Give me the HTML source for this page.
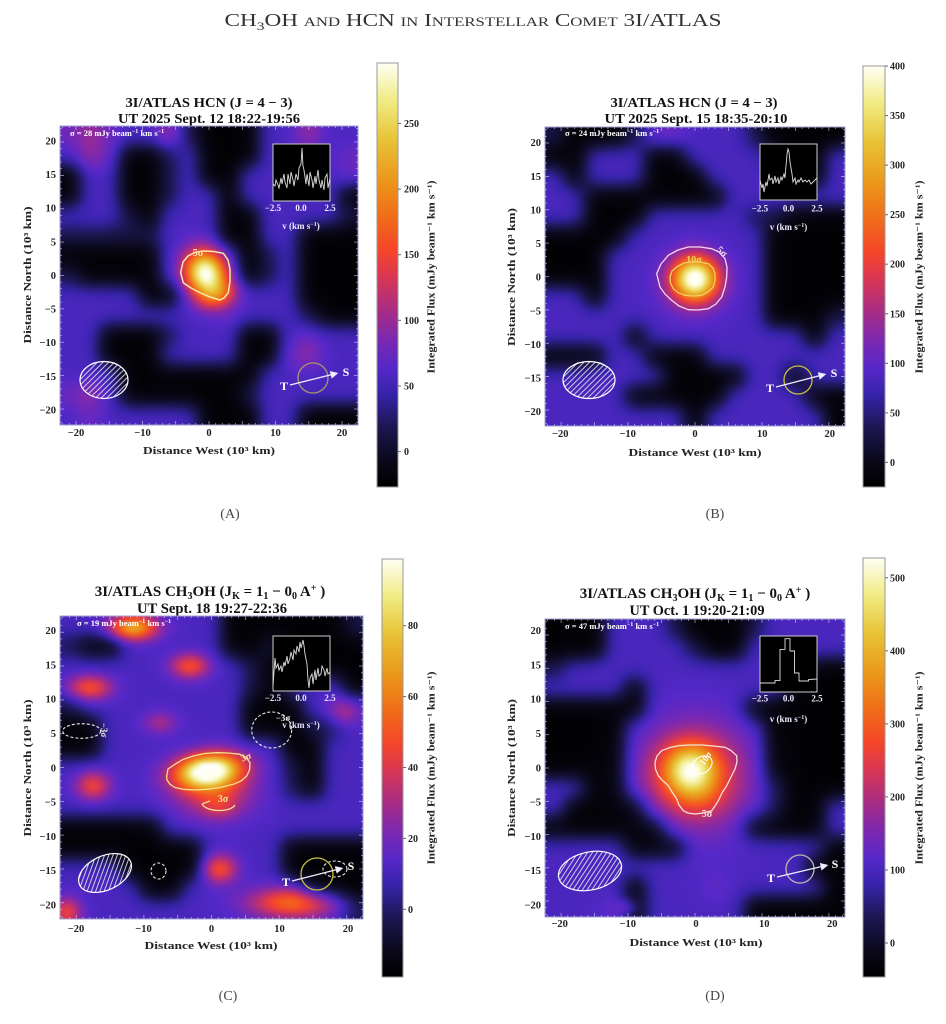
<!DOCTYPE html>
<html><head><meta charset="utf-8">
<style>
html,body{margin:0;padding:0;background:#fff;}
#wrap{position:relative;width:946px;height:1024px;overflow:hidden;background:#fff;}
canvas{position:absolute;background:#1e1850;}
svg{position:absolute;left:0;top:0;}
.b{font-family:"Liberation Serif","DejaVu Serif",serif;font-weight:bold;}
.n{font-family:"Liberation Serif","DejaVu Serif",serif;}
</style></head><body>
<div id="wrap">
<canvas id="cA" width="298" height="299" style="left:60px;top:126px"></canvas>
<canvas id="cB" width="300" height="299" style="left:545px;top:127px"></canvas>
<canvas id="cC" width="303" height="303" style="left:60px;top:616px"></canvas>
<canvas id="cD" width="300" height="298" style="left:545px;top:619px"></canvas>
<svg width="946" height="1024" viewBox="0 0 946 1024" xmlns="http://www.w3.org/2000/svg">
<defs>
<linearGradient id="cmg" x1="0" y1="1" x2="0" y2="0">
<stop offset="0" stop-color="rgb(0,0,0)"/>
<stop offset="0.06" stop-color="rgb(10,8,25)"/>
<stop offset="0.14" stop-color="rgb(28,22,80)"/>
<stop offset="0.22" stop-color="rgb(55,35,170)"/>
<stop offset="0.28" stop-color="rgb(85,40,200)"/>
<stop offset="0.35" stop-color="rgb(125,40,175)"/>
<stop offset="0.42" stop-color="rgb(170,45,130)"/>
<stop offset="0.5" stop-color="rgb(220,55,80)"/>
<stop offset="0.56" stop-color="rgb(245,70,40)"/>
<stop offset="0.64" stop-color="rgb(240,110,25)"/>
<stop offset="0.72" stop-color="rgb(235,150,25)"/>
<stop offset="0.82" stop-color="rgb(232,195,55)"/>
<stop offset="0.91" stop-color="rgb(240,235,130)"/>
<stop offset="1" stop-color="rgb(255,255,245)"/>
</linearGradient>
<pattern id="hatch" width="4" height="4" patternUnits="userSpaceOnUse" patternTransform="rotate(45)">
<line x1="1" y1="0" x2="1" y2="4" stroke="#f4f4f4" stroke-width="0.8"/>
</pattern>
<marker id="ah" markerWidth="6" markerHeight="6" refX="5" refY="3" orient="auto"><path d="M0,0 L6,3 L0,6 z" fill="#eeeeff"/></marker>
</defs>

<!-- Main title -->
<text class="n" x="473" y="26" text-anchor="middle" font-size="18" fill="#333" style="font-variant:small-caps" textLength="497" lengthAdjust="spacingAndGlyphs">CH<tspan font-size="12" dy="4">3</tspan><tspan dy="-4">OH and HCN in Interstellar Comet 3I/ATLAS</tspan></text>

<g id="ticks" stroke="rgba(230,230,255,0.75)" stroke-width="0.7"></g>

<!-- ================= PANEL A ================= -->
<text class="b" x="209" y="107" text-anchor="middle" font-size="14" fill="#111" textLength="167" lengthAdjust="spacingAndGlyphs">3I/ATLAS HCN (J = 4 − 3)</text>
<text class="b" x="209" y="123" text-anchor="middle" font-size="14" fill="#111" textLength="182" lengthAdjust="spacingAndGlyphs">UT 2025 Sept. 12 18:22-19:56</text>
<rect x="60" y="126" width="298" height="299" fill="none" stroke="#a0a0d0" stroke-width="1"/>
<text class="b" x="70" y="136" font-size="8.5" fill="#fff">σ = 28 mJy beam<tspan dy="-3" font-size="6">−1</tspan><tspan dy="3"> km s</tspan><tspan dy="-3" font-size="6">−1</tspan></text>
<rect x="273" y="144" width="57" height="57" fill="#000" stroke="#ccc" stroke-width="1"/>
<polyline transform="translate(273,144)" fill="none" stroke="#ddd" stroke-width="0.9" points="0,40 2,42 3,36 5,41 6,44 8,34 9,40 11,30 12,38 14,44 15,30 17,40 18,28 20,36 21,42 23,30 25,36 26,24 28,20 29,4 30,22 31,26 33,40 34,30 36,42 37,28 39,36 40,44 42,32 43,40 45,26 46,36 48,44 49,36 51,46 52,34 54,30 55,44 57,34"/>
<g class="b" font-size="9" fill="#f0eaff" text-anchor="middle">
<text x="273" y="211">−2.5</text><text x="301" y="211">0.0</text><text x="330" y="211">2.5</text>
<text x="301" y="229">v (km s<tspan dy="-3" font-size="6">−1</tspan><tspan dy="3">)</tspan></text>
</g>
<polygon points="180.7,272.7 183,262 188,256 196,252 203.3,251 214,251.5 223.3,253.3 228,260 230,269.3 230,281 228.3,292.7 224,298 220,300 210,297 200,292.7 191,288 183.3,282.7" fill="none" stroke="#f8e8a8" stroke-width="1.5" stroke-linejoin="round"/>
<text class="b" x="198" y="256" text-anchor="middle" font-size="10" fill="#f8e8a8">5σ</text>
<ellipse cx="104" cy="380" rx="24" ry="18.5" fill="url(#hatch)" stroke="#fff" stroke-width="1.2"/>
<circle cx="313" cy="378" r="15" fill="none" stroke="#a89868" stroke-width="1.3"/>
<line x1="290" y1="385" x2="337" y2="373.3" stroke="#eeeeff" stroke-width="1.3" marker-end="url(#ah)"/>
<text class="b" x="284" y="390" font-size="12" fill="#fff" text-anchor="middle">T</text>
<text class="b" x="346" y="376" font-size="12" fill="#fff" text-anchor="middle">S</text>
<g class="b" font-size="10.5" fill="#222" text-anchor="middle">
<text x="76" y="436">−20</text><text x="142.5" y="436">−10</text><text x="209" y="436">0</text><text x="275.5" y="436">10</text><text x="342" y="436">20</text>
</g>
<text class="b" x="209" y="454" text-anchor="middle" font-size="11" fill="#222" textLength="132" lengthAdjust="spacingAndGlyphs">Distance West (10³ km)</text>
<g class="b" font-size="10.5" fill="#222" text-anchor="end">
<text x="56" y="144.3">20</text><text x="56" y="178">15</text><text x="56" y="211.6">10</text><text x="56" y="245.3">5</text><text x="56" y="278.9">0</text><text x="56" y="312.6">−5</text><text x="56" y="346.2">−10</text><text x="56" y="379.9">−15</text><text x="56" y="413.5">−20</text>
</g>
<text class="b" transform="translate(28,275) rotate(-90)" text-anchor="middle" dominant-baseline="central" font-size="11" fill="#222" textLength="137" lengthAdjust="spacingAndGlyphs">Distance North (10³ km)</text>
<rect x="377" y="63" width="21" height="424" fill="url(#cmg)" stroke="#999" stroke-width="1"/>
<g stroke="#666" stroke-width="1"><line x1="398" y1="451.6" x2="401" y2="451.6"/><line x1="398" y1="386" x2="401" y2="386"/><line x1="398" y1="320.3" x2="401" y2="320.3"/><line x1="398" y1="254.7" x2="401" y2="254.7"/><line x1="398" y1="189.1" x2="401" y2="189.1"/><line x1="398" y1="123.4" x2="401" y2="123.4"/></g>
<g class="b" font-size="10" fill="#222">
<text x="404" y="455">0</text><text x="404" y="389.5">50</text><text x="404" y="323.8">100</text><text x="404" y="258.2">150</text><text x="404" y="192.6">200</text><text x="404" y="126.9">250</text>
</g>
<text class="b" transform="translate(432,277) rotate(-90)" text-anchor="middle" dominant-baseline="central" font-size="10.5" fill="#222" textLength="193" lengthAdjust="spacingAndGlyphs">Integrated Flux (mJy beam⁻¹ km s⁻¹)</text>
<text class="n" x="230" y="518" text-anchor="middle" font-size="14" fill="#444">(A)</text>

<!-- ================= PANEL B ================= -->
<text class="b" x="694" y="107" text-anchor="middle" font-size="14" fill="#111" textLength="167" lengthAdjust="spacingAndGlyphs">3I/ATLAS HCN (J = 4 − 3)</text>
<text class="b" x="696" y="123" text-anchor="middle" font-size="14" fill="#111" textLength="183" lengthAdjust="spacingAndGlyphs">UT 2025 Sept. 15 18:35-20:10</text>
<rect x="545" y="127" width="300" height="299" fill="none" stroke="#a0a0d0" stroke-width="1"/>
<text class="b" x="565" y="136" font-size="8.5" fill="#fff">σ = 24 mJy beam<tspan dy="-3" font-size="6">−1</tspan><tspan dy="3"> km s</tspan><tspan dy="-3" font-size="6">−1</tspan></text>
<rect x="760" y="144" width="57" height="56" fill="#000" stroke="#ccc" stroke-width="1"/>
<polyline transform="translate(760,144)" fill="none" stroke="#ddd" stroke-width="0.9" points="0,36 2,44 3,40 4,48 6,38 7,42 9,30 10,36 12,34 13,40 15,32 16,38 18,34 19,40 21,33 22,36 24,30 25,34 26,22 27,10 28,5 29,8 30,18 31,24 32,30 33,38 35,34 36,40 38,36 39,38 41,34 43,38 45,36 47,38 49,36 51,40 53,38 55,36 57,34"/>
<g class="b" font-size="9" fill="#f0eaff" text-anchor="middle">
<text x="760" y="211.5">−2.5</text><text x="788.5" y="211.5">0.0</text><text x="817" y="211.5">2.5</text>
<text x="788.5" y="230">v (km s<tspan dy="-3" font-size="6">−1</tspan><tspan dy="3">)</tspan></text>
</g>
<polygon points="656.7,273.7 661,264 668.3,255.3 678,250 688.3,247 700,247 711.7,248.7 719,252 725,258.7 727,267 726.7,277 725,287 721.7,297 716,304 708.3,308.7 698,310 688.3,309.7 679,306 671.7,300.3 665,294 660,287" fill="none" stroke="#f0d8f0" stroke-width="1.3" stroke-linejoin="round"/>
<polygon points="670,277 672,271 676.7,267 684,263 691.7,262 700,262 708.3,263.7 713,268 715,273.7 715,280 713.3,287 708,292 701.7,295.3 693,296 685,295.3 678,292.5 673.3,288.7 670.5,283" fill="none" stroke="#f0d060" stroke-width="1.3" stroke-linejoin="round"/>
<text class="b" x="694" y="263" text-anchor="middle" font-size="10" fill="#f0d060">10σ</text>
<text class="b" transform="translate(720,254) rotate(40)" text-anchor="middle" font-size="10" fill="#f0d8f0">5σ</text>
<ellipse cx="589" cy="380" rx="26" ry="18.5" fill="url(#hatch)" stroke="#fff" stroke-width="1.2"/>
<circle cx="798" cy="380" r="14" fill="none" stroke="#c8c040" stroke-width="1.3"/>
<line x1="776" y1="387" x2="825" y2="374.3" stroke="#eeeeff" stroke-width="1.3" marker-end="url(#ah)"/>
<text class="b" x="770" y="392" font-size="12" fill="#fff" text-anchor="middle">T</text>
<text class="b" x="834" y="377" font-size="12" fill="#fff" text-anchor="middle">S</text>
<g class="b" font-size="10.5" fill="#222" text-anchor="middle">
<text x="560.3" y="437">−20</text><text x="627.7" y="437">−10</text><text x="695" y="437">0</text><text x="762.3" y="437">10</text><text x="829.7" y="437">20</text>
</g>
<text class="b" x="695" y="456" text-anchor="middle" font-size="11" fill="#222" textLength="133" lengthAdjust="spacingAndGlyphs">Distance West (10³ km)</text>
<g class="b" font-size="10.5" fill="#222" text-anchor="end">
<text x="541" y="146.2">20</text><text x="541" y="179.8">15</text><text x="541" y="213.4">10</text><text x="541" y="247.1">5</text><text x="541" y="280.7">0</text><text x="541" y="314.3">−5</text><text x="541" y="347.9">−10</text><text x="541" y="381.6">−15</text><text x="541" y="415.2">−20</text>
</g>
<text class="b" transform="translate(512,277) rotate(-90)" text-anchor="middle" dominant-baseline="central" font-size="11" fill="#222" textLength="138" lengthAdjust="spacingAndGlyphs">Distance North (10³ km)</text>
<rect x="863" y="66" width="22" height="421" fill="url(#cmg)" stroke="#999" stroke-width="1"/>
<g stroke="#666" stroke-width="1"><line x1="885" y1="462.4" x2="888" y2="462.4"/><line x1="885" y1="412.9" x2="888" y2="412.9"/><line x1="885" y1="363.3" x2="888" y2="363.3"/><line x1="885" y1="313.8" x2="888" y2="313.8"/><line x1="885" y1="264.2" x2="888" y2="264.2"/><line x1="885" y1="214.7" x2="888" y2="214.7"/><line x1="885" y1="165.1" x2="888" y2="165.1"/><line x1="885" y1="115.6" x2="888" y2="115.6"/><line x1="885" y1="66" x2="888" y2="66"/></g>
<g class="b" font-size="10" fill="#222">
<text x="890" y="465.9">0</text><text x="890" y="416.4">50</text><text x="890" y="366.8">100</text><text x="890" y="317.3">150</text><text x="890" y="267.7">200</text><text x="890" y="218.2">250</text><text x="890" y="168.6">300</text><text x="890" y="119.1">350</text><text x="890" y="69.5">400</text>
</g>
<text class="b" transform="translate(920,277) rotate(-90)" text-anchor="middle" dominant-baseline="central" font-size="10.5" fill="#222" textLength="193" lengthAdjust="spacingAndGlyphs">Integrated Flux (mJy beam⁻¹ km s⁻¹)</text>
<text class="n" x="715" y="518" text-anchor="middle" font-size="14" fill="#444">(B)</text>

<!-- ================= PANEL C ================= -->
<text class="b" x="210" y="596" text-anchor="middle" font-size="15" fill="#111">3I/ATLAS CH<tspan font-size="10" dy="3">3</tspan><tspan dy="-3">OH (J</tspan><tspan font-size="10" dy="3">K</tspan><tspan dy="-3"> = 1</tspan><tspan font-size="10" dy="3">1</tspan><tspan dy="-3"> − 0</tspan><tspan font-size="10" dy="3">0</tspan><tspan dy="-3"> A</tspan><tspan font-size="10" dy="-5">+</tspan><tspan dy="5"> )</tspan></text>
<text class="b" x="212" y="613" text-anchor="middle" font-size="15" fill="#111" textLength="150" lengthAdjust="spacingAndGlyphs">UT Sept. 18 19:27-22:36</text>
<rect x="60" y="616" width="303" height="303" fill="none" stroke="#a0a0d0" stroke-width="1"/>
<text class="b" x="77" y="626" font-size="8.5" fill="#fff">σ = 19 mJy beam<tspan dy="-3" font-size="6">−1</tspan><tspan dy="3"> km s</tspan><tspan dy="-3" font-size="6">−1</tspan></text>
<rect x="273" y="636" width="57" height="55" fill="#000" stroke="#ccc" stroke-width="1"/>
<polyline transform="translate(273,636)" fill="none" stroke="#ddd" stroke-width="0.9" points="0,50 1,36 2,22 3,32 5,28 6,34 8,30 9,36 11,26 12,30 14,20 15,28 17,22 18,16 20,24 21,14 23,18 24,10 26,16 27,6 28,12 30,4 31,10 32,18 34,28 35,44 36,52 37,42 39,38 40,48 42,34 43,44 45,32 46,40 48,38 49,30 51,34 52,40 54,32 55,38 57,36"/>
<g class="b" font-size="9" fill="#e8e4ff" text-anchor="middle">
<text x="273" y="701">−2.5</text><text x="301" y="701">0.0</text><text x="330" y="701">2.5</text>
<text x="301" y="728">v (km s<tspan dy="-3" font-size="6">−1</tspan><tspan dy="3">)</tspan></text>
</g>
<polygon points="166.7,776 168,769 175,764.3 183,759.5 193.3,756 205,753.5 216.7,752.7 228,753 240,754.3 246,757.5 250,762.7 249.5,770 246.7,776 241,781 233.3,784.3 220,787.5 206.7,789.3 195,790 183.3,789.3 175,787.5 170,784.3 167,780" fill="none" stroke="#f5e08c" stroke-width="1.3" stroke-linejoin="round"/>
<text class="b" transform="translate(247,760) rotate(-20)" text-anchor="middle" font-size="10" fill="#f5e08c">3σ</text>
<path d="M202,804 C206,812 230,813 235,805 M202,804 L210,801" fill="none" stroke="#f5e08c" stroke-width="1.3"/>
<text class="b" x="223" y="802" text-anchor="middle" font-size="10" fill="#f5e08c">3σ</text>
<g fill="none" stroke="#e8e8e8" stroke-width="1.1" stroke-dasharray="3,2">
<ellipse cx="81.7" cy="731" rx="19" ry="7.3"/>
<ellipse cx="271.7" cy="730" rx="20" ry="18"/>
<ellipse cx="158.5" cy="871" rx="7.5" ry="8"/>
<ellipse cx="335" cy="869" rx="12" ry="8"/>
</g>
<text class="b" transform="translate(101,730) rotate(90)" text-anchor="middle" font-size="9" fill="#e8e8e8">−3σ</text>
<text class="b" x="283" y="721" text-anchor="middle" font-size="9" fill="#e8e8e8">−3σ</text>
<ellipse cx="105" cy="873" rx="28" ry="17" transform="rotate(-25 105 873)" fill="url(#hatch)" stroke="#fff" stroke-width="1.2"/>
<circle cx="317" cy="874" r="16" fill="none" stroke="#c8c040" stroke-width="1.3"/>
<line x1="292" y1="881" x2="342" y2="868.3" stroke="#eeeeff" stroke-width="1.3" marker-end="url(#ah)"/>
<text class="b" x="286" y="886" font-size="12" fill="#fff" text-anchor="middle">T</text>
<text class="b" x="351" y="870" font-size="12" fill="#fff" text-anchor="middle">S</text>
<g class="b" font-size="10.5" fill="#222" text-anchor="middle">
<text x="76" y="932">−20</text><text x="143.5" y="932">−10</text><text x="211.5" y="932">0</text><text x="279.5" y="932">10</text><text x="348" y="932">20</text>
</g>
<text class="b" x="211" y="949" text-anchor="middle" font-size="11" fill="#222" textLength="133" lengthAdjust="spacingAndGlyphs">Distance West (10³ km)</text>
<g class="b" font-size="10.5" fill="#222" text-anchor="end">
<text x="56" y="634.2">20</text><text x="56" y="668.5">15</text><text x="56" y="702.7">10</text><text x="56" y="737">5</text><text x="56" y="771.3">0</text><text x="56" y="805.6">−5</text><text x="56" y="839.9">−10</text><text x="56" y="874.1">−15</text><text x="56" y="908.5">−20</text>
</g>
<text class="b" transform="translate(28,768) rotate(-90)" text-anchor="middle" dominant-baseline="central" font-size="11" fill="#222" textLength="137" lengthAdjust="spacingAndGlyphs">Distance North (10³ km)</text>
<rect x="382" y="559" width="21" height="418" fill="url(#cmg)" stroke="#999" stroke-width="1"/>
<g stroke="#666" stroke-width="1"><line x1="403" y1="909.3" x2="406" y2="909.3"/><line x1="403" y1="838.4" x2="406" y2="838.4"/><line x1="403" y1="767.5" x2="406" y2="767.5"/><line x1="403" y1="696.6" x2="406" y2="696.6"/><line x1="403" y1="625.7" x2="406" y2="625.7"/></g>
<g class="b" font-size="10" fill="#222">
<text x="408" y="912.8">0</text><text x="408" y="841.9">20</text><text x="408" y="771">40</text><text x="408" y="700.1">60</text><text x="408" y="629.2">80</text>
</g>
<text class="b" transform="translate(432,768) rotate(-90)" text-anchor="middle" dominant-baseline="central" font-size="10.5" fill="#222" textLength="193" lengthAdjust="spacingAndGlyphs">Integrated Flux (mJy beam⁻¹ km s⁻¹)</text>
<text class="n" x="228" y="1000" text-anchor="middle" font-size="14" fill="#444">(C)</text>

<!-- ================= PANEL D ================= -->
<text class="b" x="695" y="598" text-anchor="middle" font-size="15" fill="#111">3I/ATLAS CH<tspan font-size="10" dy="3">3</tspan><tspan dy="-3">OH (J</tspan><tspan font-size="10" dy="3">K</tspan><tspan dy="-3"> = 1</tspan><tspan font-size="10" dy="3">1</tspan><tspan dy="-3"> − 0</tspan><tspan font-size="10" dy="3">0</tspan><tspan dy="-3"> A</tspan><tspan font-size="10" dy="-5">+</tspan><tspan dy="5"> )</tspan></text>
<text class="b" x="697" y="615" text-anchor="middle" font-size="15" fill="#111" textLength="135" lengthAdjust="spacingAndGlyphs">UT Oct. 1 19:20-21:09</text>
<rect x="545" y="619" width="300" height="298" fill="none" stroke="#a0a0d0" stroke-width="1"/>
<text class="b" x="565" y="629" font-size="8.5" fill="#fff">σ = 47 mJy beam<tspan dy="-3" font-size="6">−1</tspan><tspan dy="3"> km s</tspan><tspan dy="-3" font-size="6">−1</tspan></text>
<rect x="760" y="636" width="57" height="56" fill="#000" stroke="#ccc" stroke-width="1"/>
<polyline transform="translate(760,636)" fill="none" stroke="#ddd" stroke-width="0.9" points="0,47 15,47 15,44.6 20,44.6 20,13.4 25,13.4 25,2.7 30,2.7 30,15 34.5,15 34.5,37 39,37 39,45 48.6,45 48.6,43.6 57,43"/>
<g class="b" font-size="9" fill="#f0eaff" text-anchor="middle">
<text x="760" y="701.5">−2.5</text><text x="788.5" y="701.5">0.0</text><text x="817" y="701.5">2.5</text>
<text x="788.5" y="722">v (km s<tspan dy="-3" font-size="6">−1</tspan><tspan dy="3">)</tspan></text>
</g>
<polygon points="655,762.3 657,756 661.7,750.7 670,747.5 678.3,745.7 690,745 701.7,745 713,746 725,747.3 731,750.5 736.7,755.7 737,762 735,769 731,777 726.7,785.7 722,793 718.3,800.7 715,806 711.7,810.7 703,813 695,814 688,813 683.3,810.7 679,805 676.7,799 672,792 668.3,785.7 662,780 658.3,775.7 655.5,769" fill="none" stroke="#f5e0d8" stroke-width="1.3" stroke-linejoin="round"/>
<text class="b" x="707" y="817" text-anchor="middle" font-size="10" fill="#f5e0d8">5σ</text>
<ellipse cx="702" cy="765" rx="11" ry="8" transform="rotate(-35 702 765)" fill="none" stroke="#fff" stroke-width="1.1"/>
<text class="b" transform="translate(708,760) rotate(-55)" text-anchor="middle" font-size="9" fill="#fff">10σ</text>
<ellipse cx="590" cy="871" rx="32" ry="19" transform="rotate(-12 590 871)" fill="url(#hatch)" stroke="#fff" stroke-width="1.2"/>
<circle cx="800" cy="869" r="14" fill="none" stroke="#c0b8b0" stroke-width="1.3"/>
<line x1="777" y1="877" x2="827" y2="865.3" stroke="#eeeeff" stroke-width="1.3" marker-end="url(#ah)"/>
<text class="b" x="771" y="882" font-size="12" fill="#fff" text-anchor="middle">T</text>
<text class="b" x="835" y="868" font-size="12" fill="#fff" text-anchor="middle">S</text>
<g class="b" font-size="10.5" fill="#222" text-anchor="middle">
<text x="559.7" y="927">−20</text><text x="627.8" y="927">−10</text><text x="696" y="927">0</text><text x="764.2" y="927">10</text><text x="832.3" y="927">20</text>
</g>
<text class="b" x="696" y="946" text-anchor="middle" font-size="11" fill="#222" textLength="133" lengthAdjust="spacingAndGlyphs">Distance West (10³ km)</text>
<g class="b" font-size="10.5" fill="#222" text-anchor="end">
<text x="541" y="634.2">20</text><text x="541" y="668.5">15</text><text x="541" y="702.7">10</text><text x="541" y="737">5</text><text x="541" y="771.3">0</text><text x="541" y="805.6">−5</text><text x="541" y="839.9">−10</text><text x="541" y="874.1">−15</text><text x="541" y="908.5">−20</text>
</g>
<text class="b" transform="translate(512,768) rotate(-90)" text-anchor="middle" dominant-baseline="central" font-size="11" fill="#222" textLength="138" lengthAdjust="spacingAndGlyphs">Distance North (10³ km)</text>
<rect x="863" y="558" width="22" height="419" fill="url(#cmg)" stroke="#999" stroke-width="1"/>
<g stroke="#666" stroke-width="1"><line x1="885" y1="943" x2="888" y2="943"/><line x1="885" y1="870" x2="888" y2="870"/><line x1="885" y1="796.9" x2="888" y2="796.9"/><line x1="885" y1="723.9" x2="888" y2="723.9"/><line x1="885" y1="650.8" x2="888" y2="650.8"/><line x1="885" y1="577.8" x2="888" y2="577.8"/></g>
<g class="b" font-size="10" fill="#222">
<text x="890" y="946.5">0</text><text x="890" y="873.5">100</text><text x="890" y="800.4">200</text><text x="890" y="727.4">300</text><text x="890" y="654.3">400</text><text x="890" y="581.3">500</text>
</g>
<text class="b" transform="translate(920,768) rotate(-90)" text-anchor="middle" dominant-baseline="central" font-size="10.5" fill="#222" textLength="193" lengthAdjust="spacingAndGlyphs">Integrated Flux (mJy beam⁻¹ km s⁻¹)</text>
<text class="n" x="715" y="1000" text-anchor="middle" font-size="14" fill="#444">(D)</text>
</svg>
</div>
<script>
(function(){
var S=[[0,0,0,0],[0.06,10,8,25],[0.14,28,22,80],[0.22,55,35,170],[0.28,85,40,200],[0.35,125,40,175],[0.42,170,45,130],[0.5,220,55,80],[0.56,245,70,40],[0.64,240,110,25],[0.72,235,150,25],[0.82,232,195,55],[0.91,240,235,130],[1,255,255,245]];
function cm(t){t=t<0?0:(t>1?1:t);for(var i=1;i<S.length;i++){if(t<=S[i][0]){var a=S[i-1],b=S[i],f=(t-a[0])/(b[0]-a[0]);return[a[1]+f*(b[1]-a[1]),a[2]+f*(b[2]-a[2]),a[3]+f*(b[3]-a[3])];}}return[255,255,245];}
var LV=[0.01,0.13,0.26,0.32,0.41,0.50,0.58,0.68,0.82,0.95];
function draw(id,grid,blobs){
 var cv=document.getElementById(id);if(!cv||!cv.getContext)return;
 var N=60,off=document.createElement('canvas');off.width=N;off.height=N;
 var oc=off.getContext('2d'),im=oc.createImageData(N,N);
 var G=grid.map(function(r){return r.split('').map(function(c){return LV[+c];});});
 var R=G.length,C=G[0].length,sg=0.55,k2=1/(2*sg*sg);
 for(var j=0;j<N;j++)for(var i=0;i<N;i++){
  var x=-22.4+(i+0.5)*44.8/N,y=22.4-(j+0.5)*44.8/N;
  var gx=(i+0.5)/N*C-0.5,gy=(j+0.5)/N*R-0.5;
  var num=0,den=0;
  var ci=Math.round(gx),cj=Math.round(gy);
  for(var b1=cj-2;b1<=cj+2;b1++){var rr=Math.max(0,Math.min(R-1,b1));for(var a1=ci-2;a1<=ci+2;a1++){var cc=Math.max(0,Math.min(C-1,a1));var dx=gx-a1,dy=gy-b1,w=Math.exp(-(dx*dx+dy*dy)*k2);num+=w*G[rr][cc];den+=w;}}
  var v=num/den;
  for(var q=0;q<blobs.length;q++){var b=blobs[q],r=b[5]||0,c=Math.cos(r),s=Math.sin(r),ddx=x-b[0],ddy=y-b[1],u=(ddx*c+ddy*s)/b[2],ww=(-ddx*s+ddy*c)/b[3];v+=b[4]*Math.exp(-0.5*(u*u+ww*ww));}
  var col=cm(v),k=(j*N+i)*4;im.data[k]=col[0];im.data[k+1]=col[1];im.data[k+2]=col[2];im.data[k+3]=255;
 }
 oc.putImageData(im,0,0);
 var ctx=cv.getContext('2d');ctx.imageSmoothingEnabled=true;try{ctx.imageSmoothingQuality='high';}catch(e){}
 ctx.drawImage(off,0,0,cv.width,cv.height);
}
draw('cA',["343224100022422","243001200022223","022001200222223","022001220222220","222102220022221","111112220022000","000002222012000","100002222012000","222200222222000","222222223222100","220001222002322","220002222003422","222000000022222","342000000122222","232222200022000"],
 [[-0.5,0.3,2.2,2.5,0.75,0.4],[1.5,-3,2.2,1.4,0.22,0.3]]);
draw('cB',["100013322210000","002220022221002","202220002222002","220000000222222","220002222211000","000022222220000","000222222220000","000222222220000","220222222220000","222222222220001","222202222222202","000220002222222","222222000022022","222200000222200","222222202222220"],
 [[0,-0.3,2.5,2.4,0.75,0],[-0.5,-2.5,3.5,3,0.05,0]]);
draw('cC',["222222220000001","100222220010000","222222222100000","222222222102220","122222222000233","002222222000112","002222222220022","222222222221022","222222222221022","222222222222222","000002222222222","000000022220000","222000022220000","222200222222000","222222222222221"],
 [[-0.5,-0.4,3.4,1.7,0.72,0.12],[0.3,-3.2,4.0,2.8,0.27,0],[1.2,-5.9,1.8,1.2,0.1,0],[-11.6,20.7,2.5,1.3,0.5,0],[-3.2,15,2.0,1.3,0.3,0],[-18,11.8,2.3,1.3,0.3,0],[-7.6,6.6,1.8,1.2,0.14,0],[-17.5,-2.7,1.8,1.5,0.27,0],[1.2,-15,1.8,1.5,0.3,0],[12.1,-20,4.5,1.6,0.37,0],[-21.4,-21.4,1.5,1.5,0.27,0],[19.5,8.1,1.5,1.5,0.12,0]]);
draw('cD',["000222100012222","000222210022222","122222222222200","222202222222000","000002222200000","000022222220000","000022222220000","000022222220000","220022222221000","200002222221002","000000222200002","222200022222220","222222222222200","222202223222220","222302222200000"],
 [[-0.7,-0.3,2.8,2.7,0.46,0],[0,-1.2,5.5,5.3,0.3,0],[0.8,-4.5,2.5,2.0,0.06,0],[-10,-21,1.2,1.0,0.12,0]]);
var P=[{x:60,y:126,w:298,h:299},{x:545,y:127,w:300,h:299},{x:60,y:616,w:303,h:303},{x:545,y:619,w:300,h:298}];
var g=document.getElementById('ticks'),s='';
P.forEach(function(p){for(var v=-22;v<=22;v++){var L=(v%5===0)?4:2;var X=(p.x+p.w/2+v*p.w/44.8).toFixed(1),Y=(p.y+p.h/2-v*p.h/44.8).toFixed(1);
 s+='<line x1="'+X+'" y1="'+p.y+'" x2="'+X+'" y2="'+(p.y+L)+'"/>';
 s+='<line x1="'+X+'" y1="'+(p.y+p.h)+'" x2="'+X+'" y2="'+(p.y+p.h-L)+'"/>';
 s+='<line x1="'+p.x+'" y1="'+Y+'" x2="'+(p.x+L)+'" y2="'+Y+'"/>';
 s+='<line x1="'+(p.x+p.w)+'" y1="'+Y+'" x2="'+(p.x+p.w-L)+'" y2="'+Y+'"/>';}});
if(g)g.innerHTML=s;
})();
</script>
</body></html>
